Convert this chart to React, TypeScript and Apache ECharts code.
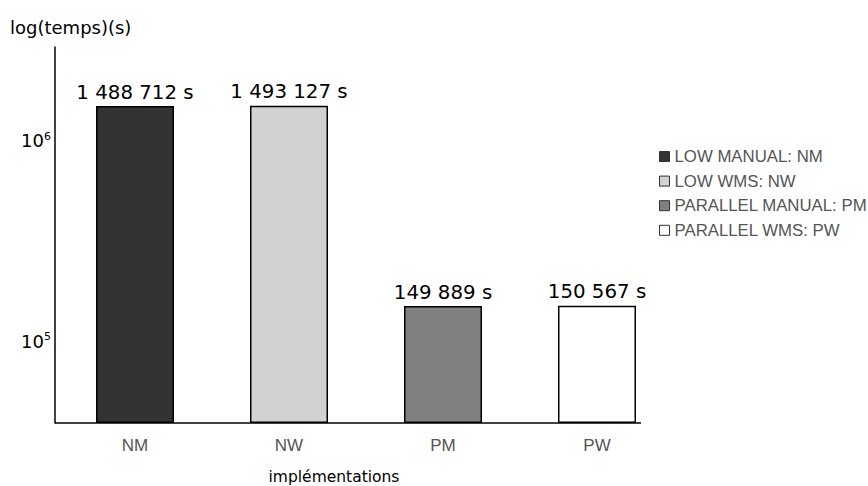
import React, { useEffect, useRef } from "react";
import * as echarts from "echarts";

const categories = ["NM", "NW", "PM", "PW"];
const seriesNames = ["LOW MANUAL: NM", "LOW WMS: NW", "PARALLEL MANUAL: PM", "PARALLEL WMS: PW"];
const times = [1488712, 1493127, 149889, 150567];
const colors = ["#333333", "#d2d2d2", "#808080", "#ffffff"];
const yMin = 39170;
const yMax = 2930000;

const fmtNum = (v: number) => String(v).replace(/\B(?=(\d{3})+(?!\d))/g, " ") + " s";

export default function App() {
  const ref = useRef<HTMLDivElement>(null);
  useEffect(() => {
    document.body.style.margin = "0";
    if (!ref.current) return;
    const chart = echarts.init(ref.current, null, { renderer: "svg" });
    const series = seriesNames.map((name, i) => ({
      name,
      type: "bar",
      barWidth: 78,
      barGap: "-100%",
      data: categories.map((_, j) => (j === i ? times[j] : "-")),
      itemStyle: { color: colors[i], borderColor: "#000", borderWidth: 1.5 },
      label: {
        show: true,
        position: "top",
        distance: 4,
        formatter: (p: any) => fmtNum(p.value),
        fontFamily: "DejaVu Sans",
        fontSize: 19.8,
        color: "#000",
      },
    }));
    chart.setOption({
      animation: false,
      grid: { left: 58, top: 47, width: 616, bottom: 486 - 423 },
      legend: {
        orient: "vertical",
        left: 654,
        top: 143,
        itemWidth: 10,
        itemHeight: 10,
        itemGap: 7.6,
        icon: "rect",
        itemStyle: { borderColor: "#333", borderWidth: 1 },
        textStyle: { fontFamily: "Liberation Sans", fontSize: 16.8, lineHeight: 17, color: "#555" },
        data: seriesNames,
      },
      xAxis: {
        type: "category",
        data: categories,
        axisLine: { show: false },
        axisTick: { show: false },
        axisLabel: {
          margin: 14,
          fontFamily: "Liberation Sans",
          fontSize: 17,
          lineHeight: 17,
          color: "#555",
        },
      },
      yAxis: {
        type: "log",
        logBase: 10,
        min: yMin,
        max: yMax,
        startValue: yMin,
        offset: 3,
        splitLine: { show: false },
        axisTick: { show: false },
        axisLine: { show: true, lineStyle: { color: "#000", width: 1.5 } },
        axisLabel: {
          showMinLabel: false,
          showMaxLabel: false,
          margin: 4,
          formatter: (v: number) => {
            const e = Math.log10(v);
            if (Math.abs(e - Math.round(e)) > 1e-6) return "";
            return "10{sup|" + Math.round(e) + "}";
          },
          fontFamily: "DejaVu Sans",
          fontSize: 18,
          color: "#000",
          rich: {
            sup: { fontFamily: "DejaVu Sans", fontSize: 11, verticalAlign: "top", color: "#000", padding: [0, 0, 9, 0] },
          },
        },
      },
      graphic: [
        {
          type: "line",
          shape: { x1: 55, y1: 423, x2: 641, y2: 423 },
          style: { stroke: "#000", lineWidth: 1.5 },
          z: 10,
        },
        {
          type: "text",
          x: 10,
          y: 27,
          style: {
            text: "log(temps)(s)",
            fontFamily: "DejaVu Sans",
            fontSize: 18,
            fill: "#000",
            textVerticalAlign: "middle",
          },
        },
        {
          type: "text",
          x: 334,
          y: 477,
          style: {
            text: "implémentations",
            fontFamily: "DejaVu Sans",
            fontSize: 15.5,
            fill: "#000",
            textAlign: "center",
            textVerticalAlign: "middle",
          },
        },
      ],
      series,
    });
    return () => chart.dispose();
  }, []);
  return <div ref={ref} style={{ width: 868, height: 486 }} />;
}
